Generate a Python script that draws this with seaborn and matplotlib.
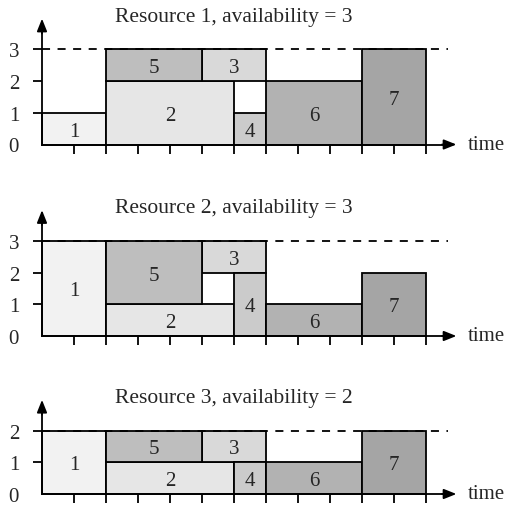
import matplotlib
matplotlib.use("Agg")
import matplotlib.pyplot as plt
import seaborn as sns

# Activity data shared by all three resource profiles
tasks = ["1", "2", "3", "4", "5", "6", "7"]
start = [0, 2, 5, 6, 2, 7, 10]
duration = [2, 4, 2, 1, 3, 3, 2]
task_colors = ["#f2f2f2", "#e6e6e6", "#d9d9d9", "#cbcbcb", "#bebebe", "#b2b2b2", "#a5a5a5"]

# Per-resource demand of each activity and the level it is stacked on
usage_r1 = [1, 2, 1, 1, 1, 2, 3]
base_r1 = [0, 0, 2, 0, 2, 0, 0]
usage_r2 = [3, 1, 1, 2, 2, 1, 2]
base_r2 = [0, 0, 2, 0, 1, 0, 0]
usage_r3 = [2, 1, 1, 1, 1, 1, 2]
base_r3 = [0, 0, 1, 0, 1, 0, 0]

resource_names = ["Resource 1", "Resource 2", "Resource 3"]
availability = [3, 3, 2]
time_ticks = list(range(1, 13))

sns.set_style("white")
plt.rcParams["font.family"] = ["Liberation Serif", "DejaVu Serif"]
plt.rcParams["lines.scale_dashes"] = False

W, H = 509, 510
fig = plt.figure(figsize=(W / 100, H / 100), dpi=100)

PX_T = 32.0      # pixels per time unit
PX_R = 31.7      # pixels per resource unit
X0 = 42.0        # pixel column of time zero
zero_rows = [145.5, 337.0, 495.0]   # pixel row (from top) of level zero per panel

x_lo = -X0 / PX_T
x_hi = (W - X0) / PX_T
LW = 1.3
FS = 15
ARROW = "-|>,head_length=0.75,head_width=0.3"

profiles = [(usage_r1, base_r1), (usage_r2, base_r2), (usage_r3, base_r3)]

for name, cap, (usage, base), zrow in zip(resource_names, availability, profiles, zero_rows):
    v_lo, v_hi = -1.0, cap + 1.6
    bottom_px = (H - zrow) + v_lo * PX_R
    height_px = (v_hi - v_lo) * PX_R
    ax = fig.add_axes([0, bottom_px / H, 1, height_px / H])
    ax.set_xlim(x_lo, x_hi)
    ax.set_ylim(v_lo, v_hi)
    ax.patch.set_visible(False)

    # activity rectangles
    ax.bar(start, usage, width=duration, bottom=base, align="edge",
           color=task_colors, edgecolor="black", linewidth=LW, zorder=2)
    for t, s, d, u, b in zip(tasks, start, duration, usage, base):
        ax.text(s + d / 2, b + u / 2, t, ha="center", va="center_baseline",
                fontsize=FS, zorder=4)

    # availability level
    ax.plot([0, 12.7], [cap, cap], color="black", lw=LW,
            linestyle=(0, (5.8, 5.4)), zorder=3, clip_on=False)

    # axes with arrow heads
    for side in ["top", "right"]:
        ax.spines[side].set_visible(False)
    ax.spines["left"].set_position(("data", 0))
    ax.spines["bottom"].set_position(("data", 0))
    ax.spines["left"].set_bounds(0, cap + 0.8)
    ax.spines["bottom"].set_bounds(0, 12.7)
    for sp in ["left", "bottom"]:
        ax.spines[sp].set_linewidth(LW)
        ax.spines[sp].set_color("black")
        ax.spines[sp].set_zorder(3)
    ax.annotate("", xy=(12.95, 0), xytext=(12.5, 0),
                arrowprops=dict(arrowstyle=ARROW, mutation_scale=10,
                                lw=LW, color="black", shrinkA=0, shrinkB=0),
                annotation_clip=False, zorder=3)
    ax.annotate("", xy=(0, cap + 0.97), xytext=(0, cap + 0.5),
                arrowprops=dict(arrowstyle=ARROW, mutation_scale=10,
                                lw=LW, color="black", shrinkA=0, shrinkB=0),
                annotation_clip=False, zorder=3)

    ax.set_xticks(time_ticks)
    ax.set_xticklabels([])
    ax.set_yticks(list(range(0, cap + 1)))
    ax.set_yticklabels([str(v) for v in range(0, cap + 1)], fontsize=FS)
    ax.tick_params(axis="both", direction="out", length=6.5, width=LW,
                   color="black", left=True, bottom=True, pad=10)
    ax.yaxis.get_major_ticks()[0].tick1line.set_visible(False)

    ax.text(13.3, 0, "time", ha="left", va="center", fontsize=FS)
    ax.text(6, cap + 1.05, f"{name}, availability = {cap}",
            ha="center", va="center", fontsize=15.5)

fig.savefig("out.png", dpi=100)
